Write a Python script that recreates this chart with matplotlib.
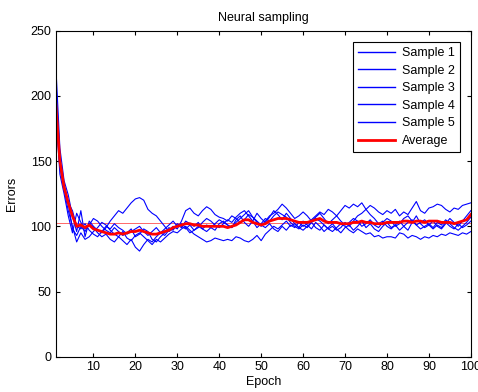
import numpy as np
import matplotlib
matplotlib.use('Agg')
import matplotlib.pyplot as plt

plt.rcParams['font.family'] = ['Liberation Sans', 'DejaVu Sans']

# data
epochs = list(range(1, 101))

sample1 = [225, 160, 135, 124, 108, 96, 112, 92, 104, 100,
           97, 95, 99, 104, 108, 112, 110, 114, 118, 121,
           122, 120, 113, 110, 108, 104, 100, 96, 98, 101,
           99, 104, 102, 100, 103, 98, 101, 99, 97, 102,
           104, 101, 99, 105, 108, 103, 100, 104, 110, 106,
           103, 107, 112, 109, 105, 110, 106, 102, 99, 104,
           101, 98, 103, 100, 96, 99, 102, 98, 95, 99,
           101, 97, 100, 104, 99, 102, 98, 96, 100, 103,
           99, 101, 104, 100, 97, 103, 108, 102, 99, 101,
           104, 100, 98, 102, 106, 103, 100, 104, 108, 112]

sample2 = [215, 150, 130, 118, 98, 93, 100, 96, 102, 99,
           95, 92, 94, 90, 88, 92, 89, 86, 90, 84,
           81, 86, 90, 88, 92, 95, 93, 97, 100, 98,
           104, 112, 114, 110, 108, 112, 115, 113, 109, 107,
           106, 104, 108, 106, 103, 105, 109, 107, 104, 101,
           99, 102, 98, 96, 100, 97, 101, 99, 103, 100,
           102, 105, 108, 111, 109, 113, 111, 108, 112, 116,
           114, 117, 115, 118, 113, 116, 114, 111, 109, 112,
           110, 113, 108, 111, 109, 114, 119, 112, 110, 114,
           115, 117, 116, 113, 111, 114, 113, 116, 117, 118]

sample3 = [200, 145, 128, 112, 100, 88, 95, 90, 92, 96,
           99, 103, 101, 97, 94, 92, 96, 91, 89, 93,
           95, 92, 89, 86, 90, 88, 91, 94, 96, 95,
           98, 100, 97, 94, 92, 90, 88, 89, 91, 90,
           89, 90, 89, 92, 91, 89, 88, 90, 93, 89,
           94, 97, 100, 98, 101, 104, 100, 102, 99, 97,
           100, 103, 99, 97, 101, 98, 96, 99, 102, 100,
           97, 95, 98, 96, 94, 95, 92, 93, 91, 92,
           92, 91, 95, 94, 91, 93, 92, 90, 92, 91,
           93, 92, 94, 93, 95, 94, 93, 95, 94, 96]

sample4 = [190, 140, 125, 108, 95, 110, 103, 98, 101, 106,
           104, 100, 97, 95, 99, 96, 93, 95, 98, 92,
           94, 98, 96, 90, 88, 92, 95, 99, 97, 102,
           100, 98, 101, 97, 99, 103, 106, 104, 101, 99,
           102, 105, 103, 107, 110, 112, 108, 104, 99, 102,
           106, 104, 108, 111, 109, 107, 103, 100, 98, 101,
           99, 103, 106, 104, 101, 98, 100, 97, 99, 103,
           100, 104, 108, 110, 113, 109, 106, 102, 104, 100,
           98, 101, 97, 100, 103, 105, 101, 98, 100, 102,
           99, 103, 101, 105, 102, 99, 97, 100, 103, 107]

sample5 = [185, 148, 132, 118, 112, 100, 98, 102, 97, 94,
           92, 96, 100, 98, 102, 99, 97, 94, 96, 98,
           100, 96, 93, 96, 99, 95, 98, 101, 104, 100,
           102, 99, 95, 97, 100, 98, 96, 99, 102, 105,
           103, 101, 99, 103, 106, 109, 112, 107, 103, 100,
           104, 108, 110, 113, 117, 114, 110, 106, 108, 111,
           108, 104, 107, 110, 106, 102, 105, 108, 104, 101,
           103, 106, 104, 100, 102, 105, 101, 99, 103, 106,
           104, 100, 102, 106, 108, 104, 101, 103, 105, 101,
           98, 101, 99, 103, 100, 98, 102, 99, 101, 104]

average = [195, 150, 130, 118, 108, 100, 101, 99, 101, 98,
           97, 96, 95, 94, 94, 95, 94, 95, 96, 96,
           97, 96, 95, 94, 94, 95, 96, 97, 99, 100,
           101, 102, 102, 101, 101, 100, 100, 100, 100, 100,
           100, 99, 100, 101, 103, 105, 105, 103, 102, 101,
           102, 104, 105, 106, 106, 106, 105, 104, 103, 103,
           103, 104, 105, 106, 104, 103, 103, 103, 102, 102,
           102, 103, 103, 104, 103, 103, 102, 102, 102, 103,
           103, 103, 103, 104, 104, 103, 104, 104, 103, 104,
           104, 104, 103, 103, 103, 102, 103, 104, 105, 109]

baseline = 102.5
samples = [sample1, sample2, sample3, sample4, sample5]
labels = ['Sample 1', 'Sample 2', 'Sample 3', 'Sample 4', 'Sample 5']

fig = plt.figure(figsize=(4.78, 3.92), dpi=100)
ax = fig.add_axes([0.1165, 0.09, 0.8685, 0.8317])

ax.axhline(baseline, color='#ff5050', lw=0.6)
for s, lab in zip(samples, labels):
    ax.plot(epochs, s, color='blue', lw=0.8, label=lab)
ax.plot(epochs, average, color='red', lw=2, label='Average')

ax.set_xlim(1, 100)
ax.set_ylim(0, 250)
ax.set_xticks(range(10, 101, 10))
ax.set_yticks(range(0, 251, 50))
ax.tick_params(direction='in', top=True, right=True, length=3, labelsize=9, pad=3)
for sp in ax.spines.values():
    sp.set_linewidth(0.8)

ax.set_title('Neural sampling', fontsize=9, pad=7)
ax.set_xlabel('Epoch', fontsize=9, labelpad=2)
ax.set_ylabel('Errors', fontsize=9, labelpad=9)

leg = ax.legend(loc='upper right', fontsize=9, fancybox=False, framealpha=1,
                edgecolor='black', handlelength=3.0, borderaxespad=0.9,
                labelspacing=0.45, handletextpad=0.5)
leg.get_frame().set_linewidth(0.8)
for h in leg.get_lines()[:5]:
    h.set_linewidth(1.0)

fig.savefig('out.png', dpi=100)
